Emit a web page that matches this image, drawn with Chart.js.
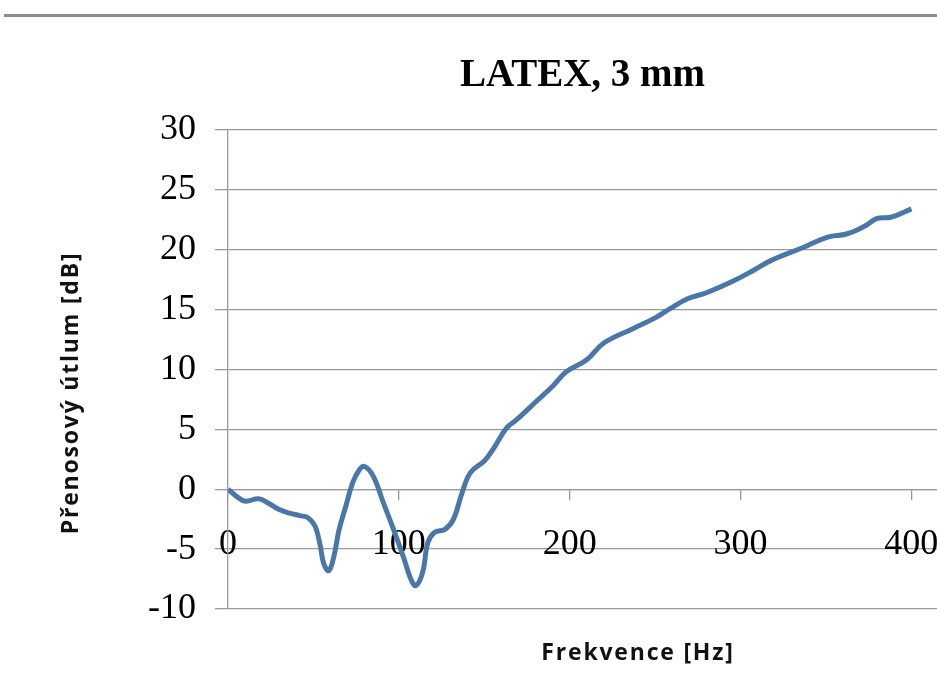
<!DOCTYPE html>
<html>
<head>
<meta charset="utf-8">
<title>LATEX, 3 mm</title>
<script src="https://cdn.jsdelivr.net/npm/chart.js@4/dist/chart.umd.min.js"></script>
<style>
  body { margin: 0; background: #fff; }
  #wrap { position: relative; width: 937px; height: 684px; }
  #topbar { position: absolute; left: 4px; right: 0; top: 14px; height: 3px; background: #8c8c8c; }
</style>
</head>
<body>
<div id="wrap">
  <canvas id="myChart"></canvas>
  <div id="topbar"></div>
</div>
<script>
// data
let frekvence = [0, 5, 10, 18, 24, 30, 36, 42, 47, 51, 54, 56, 59, 62, 65, 69, 73, 77, 80, 85,
                 91, 97, 103, 107, 110, 114, 117, 121, 127, 132, 137, 142, 150, 155, 163, 169,
                 181, 190, 198, 210, 220, 237, 250, 259, 269, 280, 296, 308, 318, 337, 351,
                 362, 372, 380, 388, 400];
let utlum = [0, -0.6, -1.0, -0.8, -1.2, -1.7, -2.0, -2.2, -2.4, -3.1, -4.7, -6.2, -6.8, -5.6, -3.4, -1.4, 0.55, 1.65, 1.9, 1.1,
             -1.15, -3.4, -5.8, -7.5, -8.05, -6.9, -4.45, -3.6, -3.35, -2.5, -0.3, 1.4, 2.35, 3.3, 5.1, 5.8,
             7.4, 8.6, 9.8, 10.8, 12.2, 13.4, 14.3, 15.1, 15.9, 16.4, 17.4, 18.3, 19.1, 20.2, 21.05,
             21.3, 21.9, 22.6, 22.7, 23.4];
let xTicks = [0, 100, 200, 300, 400];
let yTicks = [-10, -5, 0, 5, 10, 15, 20, 25, 30];

let chartTitle = 'LATEX, 3 mm';
let xTitle = 'Frekvence [Hz]';
let yTitle = 'Přenosový útlum [dB]';

var gridCol = '#9a9a9a';
var serif = "'Liberation Serif', 'Times New Roman', serif";

var points = [];
for (var k = 0; k < frekvence.length; k++) {
    points.push({x: frekvence[k], y: utlum[k]});
}

// axis titles sit off-centre in the original, draw them by hand
var axisTitles = {
    id: 'axisTitles',
    afterDraw: function(chart) {
        var ctx = chart.ctx;
        ctx.save();
        ctx.font = "bold 23px 'Open Sans', Lato, sans-serif";
        ctx.letterSpacing = '1.8px';
        ctx.fillStyle = '#111';
        ctx.textAlign = 'center';
        ctx.textBaseline = 'middle';
        ctx.fillText(xTitle, 638, 653);
        ctx.translate(71, 393);
        ctx.rotate(-Math.PI / 2);
        ctx.fillText(yTitle, 0, 0);
        ctx.restore();
    }
};

let myChart = document.getElementById('myChart').getContext('2d');

let chart = new Chart(myChart, {
    type: 'line',
    data: {
        datasets: [{
            data: points,
            borderColor: '#4a77aa',
            borderWidth: 5,
            pointRadius: 0,
            tension: 0.4,
            fill: false
        }]
    },
    options: {
        responsive: true,
        maintainAspectRatio: false,
        animation: false,
        layout: {
            padding: {top: 0, left: 0, right: 0, bottom: 75}
        },
        plugins: {
            legend: {display: false},
            tooltip: {enabled: false},
            title: {
                display: true,
                text: chartTitle,
                fullSize: false,
                color: '#000',
                font: {family: serif, size: 39, weight: 'bold'},
                padding: {top: 53, bottom: 30}
            }
        },
        scales: {
            x: {
                type: 'linear',
                position: {y: 0},
                min: 0,
                max: 415,
                afterFit: function(scale) {
                    // let the plot run off the right edge like the original crop
                    scale.height = 0;
                    scale.paddingLeft = 0;
                    scale.paddingRight = 0;
                },
                afterBuildTicks: function(scale) {
                    scale.ticks = xTicks.map(function(v) { return {value: v}; });
                },
                ticks: {
                    color: '#000',
                    font: {family: serif, size: 36},
                    padding: 24,
                    maxRotation: 0
                },
                grid: {
                    drawOnChartArea: false,
                    drawTicks: true,
                    tickLength: 10,
                    color: gridCol,
                    lineWidth: 1.3
                },
                border: {color: gridCol, width: 1.3}
            },
            y: {
                min: -10,
                max: 30,
                afterFit: function(scale) { scale.width = 228; },
                afterBuildTicks: function(scale) {
                    scale.ticks = yTicks.map(function(v) { return {value: v}; });
                },
                ticks: {
                    color: '#000',
                    font: {family: serif, size: 36},
                    padding: 19
                },
                grid: {
                    color: gridCol,
                    lineWidth: 1.3,
                    tickLength: 13
                },
                border: {color: gridCol, width: 1.3}
            }
        }
    },
    plugins: [axisTitles]
});
</script>
</body>
</html>
